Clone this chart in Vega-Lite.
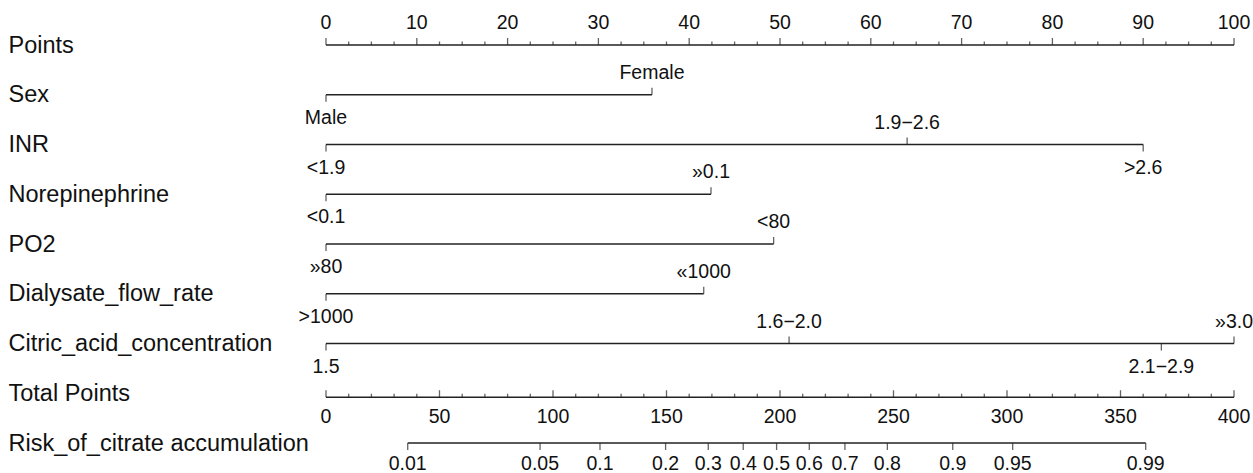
{
  "$schema": "https://vega.github.io/schema/vega-lite/v6.json",
  "width": 908,
  "height": 398,
  "autosize": {"type": "none"},
  "padding": {"left": 326, "right": 19, "top": 45, "bottom": 30},
  "background": "white",
  "config": {"view": {"stroke": null}, "text": {"font": "Liberation Sans", "fontSize": 19.5, "color": "#111"}},
  "datasets": {
    "lines": [
      {"row": "Points", "sc": "p", "a": 0, "b": 100},
      {"row": "Sex", "sc": "p", "a": 0, "b": 35.9},
      {"row": "INR", "sc": "p", "a": 0, "b": 90},
      {"row": "Norepinephrine", "sc": "p", "a": 0, "b": 42.4},
      {"row": "PO2", "sc": "p", "a": 0, "b": 49.3},
      {"row": "Dialysate_flow_rate", "sc": "p", "a": 0, "b": 41.6},
      {"row": "Citric_acid_concentration", "sc": "p", "a": 0, "b": 100},
      {"row": "Total Points", "sc": "t", "a": 0, "b": 400},
      {"row": "Risk_of_citrate accumulation", "sc": "r", "a": 36.0, "b": 361.1}
    ],
    "ticks": [
      {"row": "Points", "sc": "p", "pos": "above", "len": "major", "v": 0, "label": "0"},
      {"row": "Points", "sc": "p", "pos": "above", "len": "major", "v": 10, "label": "10"},
      {"row": "Points", "sc": "p", "pos": "above", "len": "major", "v": 20, "label": "20"},
      {"row": "Points", "sc": "p", "pos": "above", "len": "major", "v": 30, "label": "30"},
      {"row": "Points", "sc": "p", "pos": "above", "len": "major", "v": 40, "label": "40"},
      {"row": "Points", "sc": "p", "pos": "above", "len": "major", "v": 50, "label": "50"},
      {"row": "Points", "sc": "p", "pos": "above", "len": "major", "v": 60, "label": "60"},
      {"row": "Points", "sc": "p", "pos": "above", "len": "major", "v": 70, "label": "70"},
      {"row": "Points", "sc": "p", "pos": "above", "len": "major", "v": 80, "label": "80"},
      {"row": "Points", "sc": "p", "pos": "above", "len": "major", "v": 90, "label": "90"},
      {"row": "Points", "sc": "p", "pos": "above", "len": "major", "v": 100, "label": "100"},
      {"row": "Points", "sc": "p", "pos": "above", "len": "minor", "v": 2.5},
      {"row": "Points", "sc": "p", "pos": "above", "len": "minor", "v": 5},
      {"row": "Points", "sc": "p", "pos": "above", "len": "minor", "v": 7.5},
      {"row": "Points", "sc": "p", "pos": "above", "len": "minor", "v": 12.5},
      {"row": "Points", "sc": "p", "pos": "above", "len": "minor", "v": 15},
      {"row": "Points", "sc": "p", "pos": "above", "len": "minor", "v": 17.5},
      {"row": "Points", "sc": "p", "pos": "above", "len": "minor", "v": 22.5},
      {"row": "Points", "sc": "p", "pos": "above", "len": "minor", "v": 25},
      {"row": "Points", "sc": "p", "pos": "above", "len": "minor", "v": 27.5},
      {"row": "Points", "sc": "p", "pos": "above", "len": "minor", "v": 32.5},
      {"row": "Points", "sc": "p", "pos": "above", "len": "minor", "v": 35},
      {"row": "Points", "sc": "p", "pos": "above", "len": "minor", "v": 37.5},
      {"row": "Points", "sc": "p", "pos": "above", "len": "minor", "v": 42.5},
      {"row": "Points", "sc": "p", "pos": "above", "len": "minor", "v": 45},
      {"row": "Points", "sc": "p", "pos": "above", "len": "minor", "v": 47.5},
      {"row": "Points", "sc": "p", "pos": "above", "len": "minor", "v": 52.5},
      {"row": "Points", "sc": "p", "pos": "above", "len": "minor", "v": 55},
      {"row": "Points", "sc": "p", "pos": "above", "len": "minor", "v": 57.5},
      {"row": "Points", "sc": "p", "pos": "above", "len": "minor", "v": 62.5},
      {"row": "Points", "sc": "p", "pos": "above", "len": "minor", "v": 65},
      {"row": "Points", "sc": "p", "pos": "above", "len": "minor", "v": 67.5},
      {"row": "Points", "sc": "p", "pos": "above", "len": "minor", "v": 72.5},
      {"row": "Points", "sc": "p", "pos": "above", "len": "minor", "v": 75},
      {"row": "Points", "sc": "p", "pos": "above", "len": "minor", "v": 77.5},
      {"row": "Points", "sc": "p", "pos": "above", "len": "minor", "v": 82.5},
      {"row": "Points", "sc": "p", "pos": "above", "len": "minor", "v": 85},
      {"row": "Points", "sc": "p", "pos": "above", "len": "minor", "v": 87.5},
      {"row": "Points", "sc": "p", "pos": "above", "len": "minor", "v": 92.5},
      {"row": "Points", "sc": "p", "pos": "above", "len": "minor", "v": 95},
      {"row": "Points", "sc": "p", "pos": "above", "len": "minor", "v": 97.5},
      {"row": "Sex", "sc": "p", "pos": "below", "len": "major", "v": 0, "label": "Male"},
      {"row": "Sex", "sc": "p", "pos": "above", "len": "major", "v": 35.9, "label": "Female"},
      {"row": "INR", "sc": "p", "pos": "below", "len": "major", "v": 0, "label": "<1.9"},
      {"row": "INR", "sc": "p", "pos": "above", "len": "major", "v": 64.0, "label": "1.9−2.6"},
      {"row": "INR", "sc": "p", "pos": "below", "len": "major", "v": 90.0, "label": ">2.6"},
      {"row": "Norepinephrine", "sc": "p", "pos": "below", "len": "major", "v": 0, "label": "<0.1"},
      {"row": "Norepinephrine", "sc": "p", "pos": "above", "len": "major", "v": 42.4, "label": "»0.1"},
      {"row": "PO2", "sc": "p", "pos": "below", "len": "major", "v": 0, "label": "»80"},
      {"row": "PO2", "sc": "p", "pos": "above", "len": "major", "v": 49.3, "label": "<80"},
      {"row": "Dialysate_flow_rate", "sc": "p", "pos": "below", "len": "major", "v": 0, "label": ">1000"},
      {"row": "Dialysate_flow_rate", "sc": "p", "pos": "above", "len": "major", "v": 41.6, "label": "«1000"},
      {"row": "Citric_acid_concentration", "sc": "p", "pos": "below", "len": "major", "v": 0, "label": "1.5"},
      {"row": "Citric_acid_concentration", "sc": "p", "pos": "above", "len": "major", "v": 51.0, "label": "1.6−2.0"},
      {"row": "Citric_acid_concentration", "sc": "p", "pos": "below", "len": "major", "v": 92.0, "label": "2.1−2.9"},
      {"row": "Citric_acid_concentration", "sc": "p", "pos": "above", "len": "major", "v": 100, "label": "»3.0"},
      {"row": "Total Points", "sc": "t", "pos": "below", "len": "major", "v": 0, "label": "0"},
      {"row": "Total Points", "sc": "t", "pos": "below", "len": "major", "v": 50, "label": "50"},
      {"row": "Total Points", "sc": "t", "pos": "below", "len": "major", "v": 100, "label": "100"},
      {"row": "Total Points", "sc": "t", "pos": "below", "len": "major", "v": 150, "label": "150"},
      {"row": "Total Points", "sc": "t", "pos": "below", "len": "major", "v": 200, "label": "200"},
      {"row": "Total Points", "sc": "t", "pos": "below", "len": "major", "v": 250, "label": "250"},
      {"row": "Total Points", "sc": "t", "pos": "below", "len": "major", "v": 300, "label": "300"},
      {"row": "Total Points", "sc": "t", "pos": "below", "len": "major", "v": 350, "label": "350"},
      {"row": "Total Points", "sc": "t", "pos": "below", "len": "major", "v": 400, "label": "400"},
      {"row": "Total Points", "sc": "t", "pos": "below", "len": "minor", "v": 10},
      {"row": "Total Points", "sc": "t", "pos": "below", "len": "minor", "v": 20},
      {"row": "Total Points", "sc": "t", "pos": "below", "len": "minor", "v": 30},
      {"row": "Total Points", "sc": "t", "pos": "below", "len": "minor", "v": 40},
      {"row": "Total Points", "sc": "t", "pos": "below", "len": "minor", "v": 60},
      {"row": "Total Points", "sc": "t", "pos": "below", "len": "minor", "v": 70},
      {"row": "Total Points", "sc": "t", "pos": "below", "len": "minor", "v": 80},
      {"row": "Total Points", "sc": "t", "pos": "below", "len": "minor", "v": 90},
      {"row": "Total Points", "sc": "t", "pos": "below", "len": "minor", "v": 110},
      {"row": "Total Points", "sc": "t", "pos": "below", "len": "minor", "v": 120},
      {"row": "Total Points", "sc": "t", "pos": "below", "len": "minor", "v": 130},
      {"row": "Total Points", "sc": "t", "pos": "below", "len": "minor", "v": 140},
      {"row": "Total Points", "sc": "t", "pos": "below", "len": "minor", "v": 160},
      {"row": "Total Points", "sc": "t", "pos": "below", "len": "minor", "v": 170},
      {"row": "Total Points", "sc": "t", "pos": "below", "len": "minor", "v": 180},
      {"row": "Total Points", "sc": "t", "pos": "below", "len": "minor", "v": 190},
      {"row": "Total Points", "sc": "t", "pos": "below", "len": "minor", "v": 210},
      {"row": "Total Points", "sc": "t", "pos": "below", "len": "minor", "v": 220},
      {"row": "Total Points", "sc": "t", "pos": "below", "len": "minor", "v": 230},
      {"row": "Total Points", "sc": "t", "pos": "below", "len": "minor", "v": 240},
      {"row": "Total Points", "sc": "t", "pos": "below", "len": "minor", "v": 260},
      {"row": "Total Points", "sc": "t", "pos": "below", "len": "minor", "v": 270},
      {"row": "Total Points", "sc": "t", "pos": "below", "len": "minor", "v": 280},
      {"row": "Total Points", "sc": "t", "pos": "below", "len": "minor", "v": 290},
      {"row": "Total Points", "sc": "t", "pos": "below", "len": "minor", "v": 310},
      {"row": "Total Points", "sc": "t", "pos": "below", "len": "minor", "v": 320},
      {"row": "Total Points", "sc": "t", "pos": "below", "len": "minor", "v": 330},
      {"row": "Total Points", "sc": "t", "pos": "below", "len": "minor", "v": 340},
      {"row": "Total Points", "sc": "t", "pos": "below", "len": "minor", "v": 360},
      {"row": "Total Points", "sc": "t", "pos": "below", "len": "minor", "v": 370},
      {"row": "Total Points", "sc": "t", "pos": "below", "len": "minor", "v": 380},
      {"row": "Total Points", "sc": "t", "pos": "below", "len": "minor", "v": 390},
      {"row": "Risk_of_citrate accumulation", "sc": "r", "pos": "below", "len": "major", "v": 36.0, "label": "0.01"},
      {"row": "Risk_of_citrate accumulation", "sc": "r", "pos": "below", "len": "major", "v": 94.3, "label": "0.05"},
      {"row": "Risk_of_citrate accumulation", "sc": "r", "pos": "below", "len": "major", "v": 120.7, "label": "0.1"},
      {"row": "Risk_of_citrate accumulation", "sc": "r", "pos": "below", "len": "major", "v": 149.6, "label": "0.2"},
      {"row": "Risk_of_citrate accumulation", "sc": "r", "pos": "below", "len": "major", "v": 168.4, "label": "0.3"},
      {"row": "Risk_of_citrate accumulation", "sc": "r", "pos": "below", "len": "major", "v": 183.8, "label": "0.4"},
      {"row": "Risk_of_citrate accumulation", "sc": "r", "pos": "below", "len": "major", "v": 198.5, "label": "0.5"},
      {"row": "Risk_of_citrate accumulation", "sc": "r", "pos": "below", "len": "major", "v": 212.9, "label": "0.6"},
      {"row": "Risk_of_citrate accumulation", "sc": "r", "pos": "below", "len": "major", "v": 228.6, "label": "0.7"},
      {"row": "Risk_of_citrate accumulation", "sc": "r", "pos": "below", "len": "major", "v": 247.3, "label": "0.8"},
      {"row": "Risk_of_citrate accumulation", "sc": "r", "pos": "below", "len": "major", "v": 276.1, "label": "0.9"},
      {"row": "Risk_of_citrate accumulation", "sc": "r", "pos": "below", "len": "major", "v": 302.5, "label": "0.95"},
      {"row": "Risk_of_citrate accumulation", "sc": "r", "pos": "below", "len": "major", "v": 361.1, "label": "0.99"}
    ]
  },
  "encoding": {
    "y": {
      "field": "row",
      "type": "nominal",
      "scale": {
        "type": "point",
        "padding": 0,
        "domain": ["Points", "Sex", "INR", "Norepinephrine", "PO2", "Dialysate_flow_rate", "Citric_acid_concentration", "Total Points", "Risk_of_citrate accumulation"]
      },
      "axis": {
        "title": null,
        "domain": false,
        "ticks": false,
        "tickSize": 0,
        "grid": false,
        "labelAlign": "left",
        "labelBaseline": "middle",
        "labelPadding": 318,
        "labelFont": "Liberation Sans",
        "labelFontSize": 23.5,
        "labelColor": "#111",
        "labelLimit": 0
      }
    }
  },
  "layer": [
    {
      "data": {"name": "lines"},
      "transform": [{"filter": "datum.sc == 'p'"}],
      "mark": {"type": "rule", "color": "#222", "strokeWidth": 1.3},
      "encoding": {
        "x": {"field": "a", "type": "quantitative", "scale": {"domain": [0, 100], "nice": false}, "axis": null},
        "x2": {"field": "b"}
      }
    },
    {
      "data": {"name": "lines"},
      "transform": [{"filter": "datum.sc == 't'"}],
      "mark": {"type": "rule", "color": "#222", "strokeWidth": 1.3, "yOffset": 4},
      "encoding": {
        "x": {"field": "a", "type": "quantitative", "scale": {"domain": [0, 400], "nice": false}, "axis": null},
        "x2": {"field": "b"}
      }
    },
    {
      "data": {"name": "lines"},
      "transform": [{"filter": "datum.sc == 'r'"}],
      "mark": {"type": "rule", "color": "#222", "strokeWidth": 1.3},
      "encoding": {
        "x": {"field": "a", "type": "quantitative", "scale": {"domain": [0, 400], "nice": false}, "axis": null},
        "x2": {"field": "b"}
      }
    },
    {
      "data": {"name": "ticks"},
      "transform": [{"filter": "datum.sc == 'p' && datum.pos == 'above' && datum.len == 'major'"}],
      "mark": {"type": "tick", "color": "#222", "thickness": 1.3, "size": 7, "yOffset": -3.5},
      "encoding": {
        "x": {"field": "v", "type": "quantitative", "scale": {"domain": [0, 100], "nice": false}, "axis": null}
      }
    },
    {
      "data": {"name": "ticks"},
      "transform": [{"filter": "datum.sc == 'p' && datum.len == 'minor'"}],
      "mark": {"type": "tick", "color": "#222", "thickness": 1.3, "size": 3.5, "yOffset": -1.75},
      "encoding": {
        "x": {"field": "v", "type": "quantitative", "scale": {"domain": [0, 100], "nice": false}, "axis": null}
      }
    },
    {
      "data": {"name": "ticks"},
      "transform": [{"filter": "datum.sc == 'p' && datum.pos == 'below'"}],
      "mark": {"type": "tick", "color": "#222", "thickness": 1.3, "size": 7, "yOffset": 3.5},
      "encoding": {
        "x": {"field": "v", "type": "quantitative", "scale": {"domain": [0, 100], "nice": false}, "axis": null}
      }
    },
    {
      "data": {"name": "ticks"},
      "transform": [{"filter": "datum.sc == 'p' && datum.pos == 'above' && datum.len == 'major'"}],
      "mark": {"type": "text", "baseline": "middle", "align": "center", "dy": -22},
      "encoding": {
        "x": {"field": "v", "type": "quantitative", "scale": {"domain": [0, 100], "nice": false}, "axis": null},
        "text": {"field": "label"}
      }
    },
    {
      "data": {"name": "ticks"},
      "transform": [{"filter": "datum.sc == 'p' && datum.pos == 'below'"}],
      "mark": {"type": "text", "baseline": "middle", "align": "center", "dy": 23},
      "encoding": {
        "x": {"field": "v", "type": "quantitative", "scale": {"domain": [0, 100], "nice": false}, "axis": null},
        "text": {"field": "label"}
      }
    },
    {
      "data": {"name": "ticks"},
      "transform": [{"filter": "datum.sc == 't' && datum.len == 'major'"}],
      "mark": {"type": "tick", "color": "#222", "thickness": 1.3, "size": 7, "yOffset": 0.5},
      "encoding": {
        "x": {"field": "v", "type": "quantitative", "scale": {"domain": [0, 400], "nice": false}, "axis": null}
      }
    },
    {
      "data": {"name": "ticks"},
      "transform": [{"filter": "datum.sc == 't' && datum.len == 'minor'"}],
      "mark": {"type": "tick", "color": "#222", "thickness": 1.3, "size": 3.5, "yOffset": 2.25},
      "encoding": {
        "x": {"field": "v", "type": "quantitative", "scale": {"domain": [0, 400], "nice": false}, "axis": null}
      }
    },
    {
      "data": {"name": "ticks"},
      "transform": [{"filter": "datum.sc == 't' && datum.len == 'major'"}],
      "mark": {"type": "text", "baseline": "middle", "align": "center", "dy": 24},
      "encoding": {
        "x": {"field": "v", "type": "quantitative", "scale": {"domain": [0, 400], "nice": false}, "axis": null},
        "text": {"field": "label"}
      }
    },
    {
      "data": {"name": "ticks"},
      "transform": [{"filter": "datum.sc == 'r'"}],
      "mark": {"type": "tick", "color": "#222", "thickness": 1.3, "size": 7, "yOffset": 3.5},
      "encoding": {
        "x": {"field": "v", "type": "quantitative", "scale": {"domain": [0, 400], "nice": false}, "axis": null}
      }
    },
    {
      "data": {"name": "ticks"},
      "transform": [{"filter": "datum.sc == 'r'"}],
      "mark": {"type": "text", "baseline": "middle", "align": "center", "dy": 20.5},
      "encoding": {
        "x": {"field": "v", "type": "quantitative", "scale": {"domain": [0, 400], "nice": false}, "axis": null},
        "text": {"field": "label"}
      }
    }
  ],
  "resolve": {"scale": {"x": "independent"}}
}
